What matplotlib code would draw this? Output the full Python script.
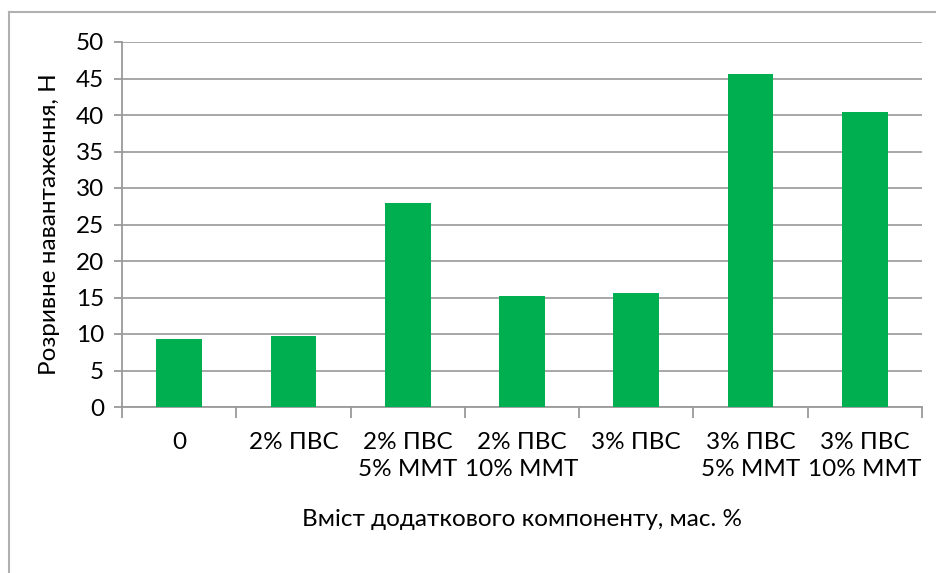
import matplotlib
matplotlib.use("Agg")
import matplotlib.pyplot as plt
from matplotlib.lines import Line2D

plt.rcParams['font.family'] = ['Lato', 'DejaVu Sans']

categories = ["0", "2% ПВС", "2% ПВС\n5% ММТ", "2% ПВС\n10% ММТ",
              "3% ПВС", "3% ПВС\n5% ММТ", "3% ПВС\n10% ММТ"]
load_n = [9.3, 9.7, 27.9, 15.25, 15.6, 45.6, 40.4]
y_ticks = [0, 5, 10, 15, 20, 25, 30, 35, 40, 45, 50]

W, H = 937, 573
FS = 17.5
fig = plt.figure(figsize=(W / 100, H / 100), dpi=100)
ax = fig.add_axes([122 / W, 1 - 407 / H, 800 / W, 365 / H])

x = list(range(len(categories)))
ax.bar(x, load_n, width=0.4, color="#00B050", zorder=3)

ax.set_xlim(-0.5, len(categories) - 0.5)
ax.set_ylim(0, 50)
ax.set_yticks(y_ticks)
ax.yaxis.grid(True, color="#A0A0A0", linewidth=1.3, zorder=0)
ax.set_axisbelow(True)

for side in ("top", "right"):
    ax.spines[side].set_visible(False)
for side in ("left", "bottom"):
    ax.spines[side].set_color("#9A9A9A")
    ax.spines[side].set_linewidth(1.3)

# category labels between boundary ticks
ax.set_xticks([i - 0.5 for i in range(len(categories) + 1)])
ax.set_xticklabels([])
ax.set_xticks(x, minor=True)
ax.set_xticklabels(categories, minor=True, fontsize=FS, linespacing=1.38)
ax.tick_params(axis="x", which="major", length=8, width=1.3, color="#9A9A9A")
ax.tick_params(axis="x", which="minor", length=0, pad=18)
ax.tick_params(axis="y", length=6, width=1.3, color="#9A9A9A", labelsize=FS, pad=7)
for lbl in ax.get_xticklabels(minor=True):
    lbl.set_verticalalignment("top")

ax.set_ylabel("Розривне навантаження, Н", fontsize=FS, labelpad=11)
fig.text(522 / W, 1 - 519 / H, "Вміст додаткового компоненту, мас. %",
         ha="center", va="center", fontsize=FS)

# chart-area border
fig.add_artist(Line2D([9 / W, 9 / W], [0, 1 - 12 / H], transform=fig.transFigure,
                      color="#B0B0B0", linewidth=1.5))
fig.add_artist(Line2D([9 / W, 1], [1 - 12 / H, 1 - 12 / H], transform=fig.transFigure,
                      color="#B0B0B0", linewidth=1.5))

fig.savefig("out.png", dpi=100, facecolor="white")
